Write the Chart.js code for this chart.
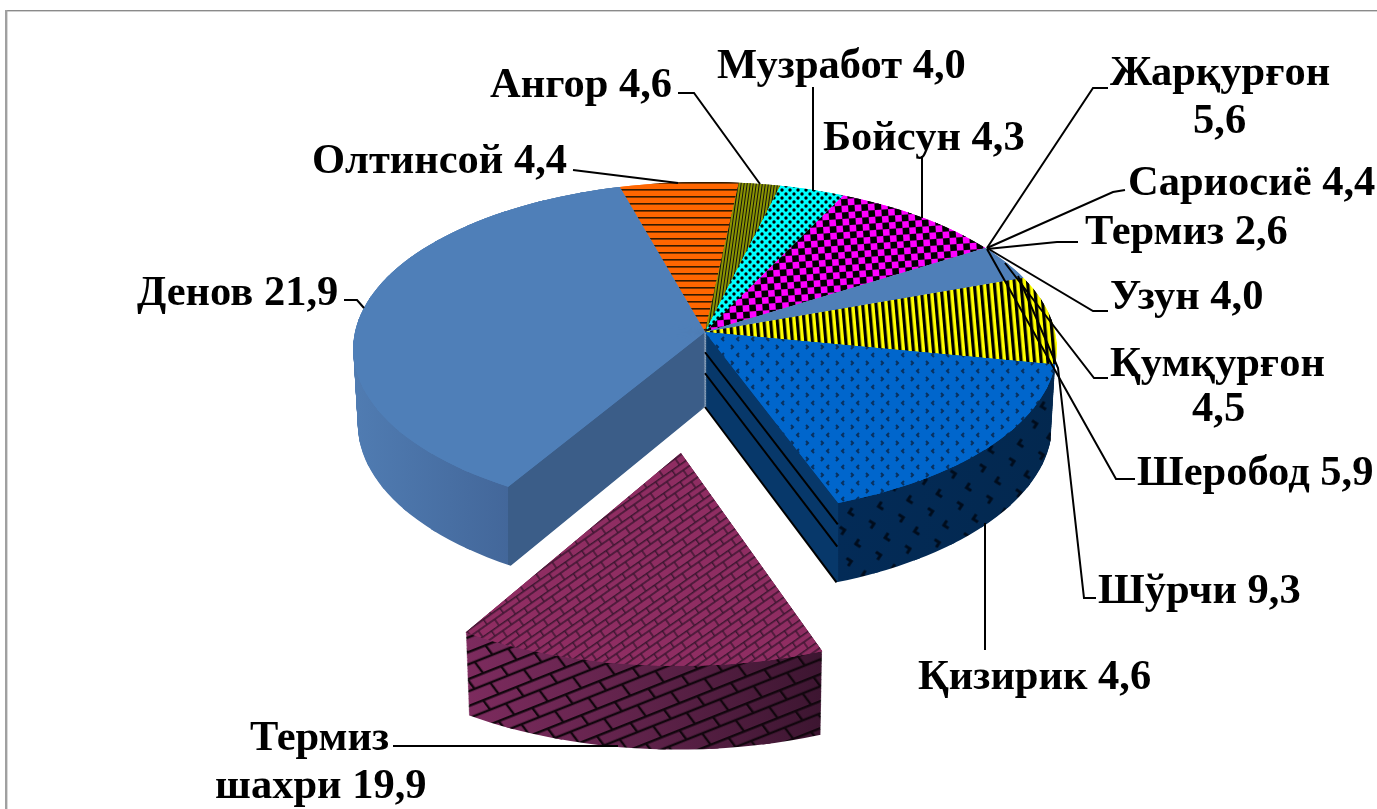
<!DOCTYPE html>
<html>
<head>
<meta charset="utf-8">
<style>
  html, body { margin: 0; padding: 0; background: #fff; }
  canvas { display: block; }
</style>
<script src="https://cdn.jsdelivr.net/npm/chart.js@4/dist/chart.umd.js"></script>
</head>
<body>
<canvas id="myChart" width="1377" height="809"></canvas>
<script>
const sliceNames = ['Олтинсой', 'Ангор', 'Музработ', 'Бойсун', 'Узун', 'Шўрчи', 'Қизирик', 'Термиз шахри', 'Денов'];
const sliceValues = [6.0, 2.1, 3.3, 8.9, 3.5, 8.6, 16.3, 14.2, 37.1];
const sliceOffsets = [0, 0, 0, 0, 0, 0, 0, 428, 0];
const sliceColors = ['#ff6600', '#8a9400', '#00ffff', '#ff00ff', '#4f7fb8', '#ffff00', '#0066cc', '#8f2d62', '#4f7fb8'];

// the printed labels
const labelNames = ['Денов', 'Олтинсой', 'Ангор', 'Музработ', 'Бойсун', 'Жарқурғон', 'Сариосиё', 'Термиз', 'Узун', 'Қумқурғон', 'Шеробод', 'Шўрчи', 'Қизирик', 'Термиз шахри'];
const labelValues = ['21,9', '4,4', '4,6', '4,0', '4,3', '5,6', '4,4', '2,6', '4,0', '4,5', '5,9', '9,3', '4,6', '19,9'];

// layout only: text lines [text, x, baseline] and leader polylines per label
const labelLayout = [
  { lines: [[0, 137, 305]], leader: [[344, 300], [357, 300], [364, 308]] },
  { lines: [[0, 312, 173]], leader: [[573, 170], [678, 183]] },
  { lines: [[0, 490, 97]], leader: [[678, 93], [694, 93], [760, 184]] },
  { lines: [[0, 717, 78]], leader: [[813, 87], [813, 191]] },
  { lines: [[0, 823, 150]], leader: [[922, 156], [922, 218]] },
  { lines: [[1, 1110, 85], [2, 1193, 133]], leader: [[1108, 88], [1093, 88], [987, 248]] },
  { lines: [[0, 1128, 195]], leader: [[1125, 190], [1113, 192], [987, 248]] },
  { lines: [[0, 1085, 244]], leader: [[1078, 242], [1057, 242], [987, 249]] },
  { lines: [[0, 1110, 309]], leader: [[1108, 311], [1093, 311], [987, 248]] },
  { lines: [[1, 1110, 376], [2, 1192, 421]], leader: [[1108, 378], [1094, 378], [1005, 263]] },
  { lines: [[0, 1137, 485]], leader: [[1135, 479], [1116, 479], [987, 249]] },
  { lines: [[0, 1098, 603]], leader: [[1096, 598], [1084, 598], [1058, 368], [1018, 276]] },
  { lines: [[0, 918, 689]], leader: [[985, 523], [985, 650]] },
  { lines: [[3, 250, 750], [4, 215, 798]], leader: [[393, 746], [618, 746]] }
];

// tilted circle seen in perspective (fitted on the outline of the pie)
const view = { cx: 705, cy: 332, r: 350, ry: 165, k: 0.1, depth: 75, depthFront: 43, narrow: 0.013 };

const project = (u, v, t) => {
  const w = 1 / (1 - view.k * v);
  return [
    view.cx + view.r * u * w * (1 - view.narrow * t),
    view.cy + view.ry * v * w + t * (view.depth + view.depthFront * (w - 1))
  ];
};

const makeTile = (w, h, paint, matrix) => {
  const tile = document.createElement('canvas');
  tile.width = w;
  tile.height = h;
  paint(tile.getContext('2d'));
  const pattern = tile.getContext('2d').createPattern(tile, 'repeat');
  if (matrix) pattern.setTransform(matrix);
  return pattern;
};

const chevrons = (g, s, lw, color) => {
  g.strokeStyle = color;
  g.lineWidth = lw;
  g.beginPath();
  g.moveTo(4 * s, 1 * s); g.lineTo(2 * s, 3 * s); g.lineTo(4 * s, 5 * s);
  g.moveTo(11 * s, 9 * s); g.lineTo(13 * s, 11 * s); g.lineTo(11 * s, 13 * s);
  g.stroke();
};

const bricks = (g, w, h, lw, color) => {
  g.strokeStyle = color;
  g.lineWidth = lw;
  g.beginPath();
  g.moveTo(0, lw / 2); g.lineTo(w, lw / 2);
  g.moveTo(0, h / 2); g.lineTo(w, h / 2);
  g.moveTo(lw / 2, 0); g.lineTo(lw / 2, h / 2);
  g.moveTo(w / 2, h / 2); g.lineTo(w / 2, h);
  g.stroke();
};

const patterns = {
  orange: () => makeTile(7, 7, g => { g.fillStyle = '#331a00'; g.fillRect(0, 0, 7, 1.6); }),
  olive: () => makeTile(3, 3, g => { g.fillStyle = '#111'; g.fillRect(0, 0, 1, 3); }, new DOMMatrix().rotate(8)),
  cyan: () => makeTile(8, 8, g => {
    g.fillStyle = '#000';
    g.beginPath();
    g.arc(2, 2, 1.7, 0, 7);
    g.arc(6, 6, 1.7, 0, 7);
    g.fill();
  }),
  magenta: () => makeTile(12, 12, g => {
    g.fillStyle = '#000';
    g.fillRect(0, 0, 6, 6);
    g.fillRect(6, 6, 6, 6);
  }, new DOMMatrix().rotate(-4).scale(1.1)),
  yellow: () => makeTile(7, 7, g => { g.fillStyle = '#000'; g.fillRect(0, 0, 3.4, 7); }, new DOMMatrix().rotate(-5).scale(0.95)),
  blue: () => makeTile(15, 16, g => chevrons(g, 1, 2, '#08315f')),
  blueWall: () => makeTile(30, 32, g => chevrons(g, 2, 3, '#000c1c'), new DOMMatrix().rotate(-12)),
  brick: () => makeTile(20, 14, g => bricks(g, 20, 14, 1.4, '#3c1630'), new DOMMatrix().rotate(-35)),
  brickWall: () => makeTile(36, 26, g => bricks(g, 36, 26, 2.4, '#12060e'), new DOMMatrix([0.93, -0.37, 0.6, 0.8, 0, 0]))
};

const sliceOverlay = ['orange', 'olive', 'cyan', 'magenta', null, 'yellow', 'blue', 'brick', null];

// library arc, drawn in small pieces, each piece mapped so its corners sit on the projection
const drawWedge = (c, arc, t) => {
  const saved = {
    x: arc.x, y: arc.y, startAngle: arc.startAngle, endAngle: arc.endAngle,
    circumference: arc.circumference, options: arc.options
  };
  const r = arc.outerRadius;
  const half = (saved.startAngle + saved.endAngle) / 2;
  const offset = (saved.options.offset || 0) / 4;
  const shift = offset * (2 - Math.sin(Math.min(Math.PI, saved.circumference)));
  const ox = saved.x + Math.cos(half) * shift;
  const oy = saved.y + Math.sin(half) * shift;
  const parts = Math.ceil(saved.circumference / (8 * Math.PI / 180));
  const step = saved.circumference / parts;
  const toScreen = (px, py) => project((px - saved.x) / r, (py - saved.y) / r, t);

  arc.options = Object.assign({}, saved.options, { offset: 0, backgroundColor: '#000', borderWidth: 0 });
  arc.x = ox;
  arc.y = oy;
  for (let i = 0; i < parts; i++) {
    const a0 = saved.startAngle + step * i;
    const a1 = Math.min(a0 + step + 0.02, saved.endAngle);
    const p1 = [r * Math.cos(a0), r * Math.sin(a0)];
    const p2 = [r * Math.cos(a1), r * Math.sin(a1)];
    const q0 = toScreen(ox, oy);
    const q1 = toScreen(ox + p1[0], oy + p1[1]);
    const q2 = toScreen(ox + p2[0], oy + p2[1]);
    const det = p1[0] * p2[1] - p2[0] * p1[1];
    const ax = q1[0] - q0[0], ay = q1[1] - q0[1], bx = q2[0] - q0[0], by = q2[1] - q0[1];
    const a = (ax * p2[1] - bx * p1[1]) / det;
    const b = (ay * p2[1] - by * p1[1]) / det;
    const d = (bx * p1[0] - ax * p2[0]) / det;
    const e = (by * p1[0] - ay * p2[0]) / det;
    c.setTransform(a, b, d, e, q0[0] - a * ox - d * oy, q0[1] - b * ox - e * oy);
    arc.startAngle = a0;
    arc.endAngle = a1;
    arc.circumference = a1 - a0;
    arc.draw(c);
  }
  Object.assign(arc, saved);
  c.setTransform(1, 0, 0, 1, 0, 0);
};

// top face: the seams between pieces need a second pass to close
const drawTop = (c, arc) => {
  drawWedge(c, arc, 0);
  drawWedge(c, arc, 0);
};

const cornerOf = (arc, angle, t) => {
  const half = (arc.startAngle + arc.endAngle) / 2;
  const shift = (arc.options.offset || 0) / 4 * (2 - Math.sin(Math.min(Math.PI, arc.circumference)));
  const px = Math.cos(half) * shift + arc.outerRadius * Math.cos(angle);
  const py = Math.sin(half) * shift + arc.outerRadius * Math.sin(angle);
  return project(px / arc.outerRadius, py / arc.outerRadius, t);
};

// side wall colours, split at the front corner of the wedge
const wallFill = {
  'Денов': (c, arc) => {
    const x = cornerOf(arc, arc.startAngle, 0)[0];
    const g = c.createLinearGradient(353, 0, 707, 0);
    const stop = (x - 353) / 354;
    g.addColorStop(0, '#507cb2');
    g.addColorStop(stop - 0.001, '#43679a');
    g.addColorStop(stop + 0.001, '#3b5d88');
    g.addColorStop(1, '#3b5d88');
    return g;
  },
  'Қизирик': (c, arc) => {
    const x = cornerOf(arc, arc.endAngle, 0)[0];
    const g = c.createLinearGradient(705, 0, 1060, 0);
    const stop = (x - 705) / 355;
    g.addColorStop(0, '#07386a');
    g.addColorStop(stop - 0.001, '#07386a');
    g.addColorStop(stop + 0.001, '#032b57');
    g.addColorStop(1, '#03284f');
    return g;
  },
  'Термиз шахри': c => {
    const g = c.createLinearGradient(465, 0, 826, 0);
    g.addColorStop(0, '#7d2b5e');
    g.addColorStop(0.5, '#5e2249');
    g.addColorStop(1, '#3c1530');
    return g;
  }
};

const paintMask = (ctx, off, fill, overlay, overlayFrom) => {
  const o = off.getContext('2d');
  o.globalCompositeOperation = 'source-in';
  o.fillStyle = fill;
  o.fillRect(0, 0, off.width, off.height);
  if (overlay) {
    const x0 = overlayFrom || 0;
    o.globalCompositeOperation = 'source-atop';
    o.fillStyle = overlay;
    o.fillRect(x0, 0, off.width - x0, off.height);
  }
  o.globalCompositeOperation = 'source-over';
  ctx.drawImage(off, 0, 0);
  o.clearRect(0, 0, off.width, off.height);
};

const tiltedPie = {
  id: 'tiltedPie',
  beforeDraw(chart) {
    const ctx = chart.ctx;
    ctx.save();
    ctx.fillStyle = '#fff';
    ctx.fillRect(0, 0, chart.width, chart.height);
    ctx.fillStyle = '#8a8a8a';
    ctx.fillRect(5, 10, chart.width - 5, 1.4);
    ctx.fillStyle = '#a0a0a0';
    ctx.fillRect(5, 10, 2.4, chart.height - 10);
    ctx.restore();
  },
  beforeDatasetsDraw(chart) {
    const ctx = chart.ctx;
    const arcs = chart.getDatasetMeta(0).data;
    const off = document.createElement('canvas');
    off.width = chart.width;
    off.height = chart.height;
    const o = off.getContext('2d');
    const extrude = arc => {
      for (let t = 1; t > 0; t -= 1 / 90) drawWedge(o, arc, t);
    };

    // walls of the pie, then its top faces, the exploded wedge last
    const denov = arcs[sliceNames.indexOf('Денов')];
    extrude(denov);
    paintMask(ctx, off, wallFill['Денов'](o, denov));

    const blue = arcs[sliceNames.indexOf('Қизирик')];
    extrude(blue);
    paintMask(ctx, off, wallFill['Қизирик'](o, blue), patterns.blueWall(), cornerOf(blue, blue.endAngle, 0)[0]);

    // the black bands on the cut side of the blue wedge
    ctx.save();
    ctx.strokeStyle = '#000';
    ctx.lineWidth = 2;
    [0.27, 0.55, 1].forEach(t => {
      const a = project(0, 0, t);
      const b = cornerOf(blue, blue.endAngle, t);
      ctx.beginPath();
      ctx.moveTo(a[0], a[1]);
      ctx.lineTo(b[0], b[1]);
      ctx.stroke();
    });
    ctx.restore();

    arcs.forEach((arc, i) => {
      if (sliceOffsets[i]) return;
      drawTop(o, arc);
      const key = sliceOverlay[i];
      paintMask(ctx, off, sliceColors[i], key ? patterns[key]() : null);
    });

    const idx = sliceNames.indexOf('Термиз шахри');
    extrude(arcs[idx]);
    paintMask(ctx, off, wallFill['Термиз шахри'](o, arcs[idx]), patterns.brickWall());
    drawTop(o, arcs[idx]);
    paintMask(ctx, off, sliceColors[idx], patterns.brick());

    return false;
  },
  afterDraw(chart) {
    const ctx = chart.ctx;
    ctx.save();
    ctx.strokeStyle = '#000';
    ctx.lineWidth = 2;
    labelLayout.forEach(item => {
      ctx.beginPath();
      item.leader.forEach((p, i) => (i ? ctx.lineTo(p[0], p[1]) : ctx.moveTo(p[0], p[1])));
      ctx.stroke();
    });
    ctx.fillStyle = '#000';
    ctx.font = 'bold 42.5px "Liberation Serif"';
    ctx.textBaseline = 'alphabetic';
    labelLayout.forEach((item, i) => {
      const words = labelNames[i].split(' ');
      const parts = [
        labelNames[i] + ' ' + labelValues[i],
        labelNames[i],
        labelValues[i],
        words[0],
        (words[1] || '') + ' ' + labelValues[i]
      ];
      item.lines.forEach(line => ctx.fillText(parts[line[0]], line[1], line[2]));
    });
    ctx.restore();
  }
};

const ctx = document.getElementById('myChart').getContext('2d');

const chart = new Chart(ctx, {
  type: 'pie',
  data: {
    labels: sliceNames,
    datasets: [{
      data: sliceValues,
      backgroundColor: sliceColors,
      offset: sliceOffsets,
      hoverOffset: 0,
      borderWidth: 0
    }]
  },
  options: {
    responsive: false,
    animation: false,
    rotation: -15.5,
    plugins: {
      legend: { display: false },
      tooltip: { enabled: false }
    }
  },
  plugins: [tiltedPie]
});
</script>
</body>
</html>
